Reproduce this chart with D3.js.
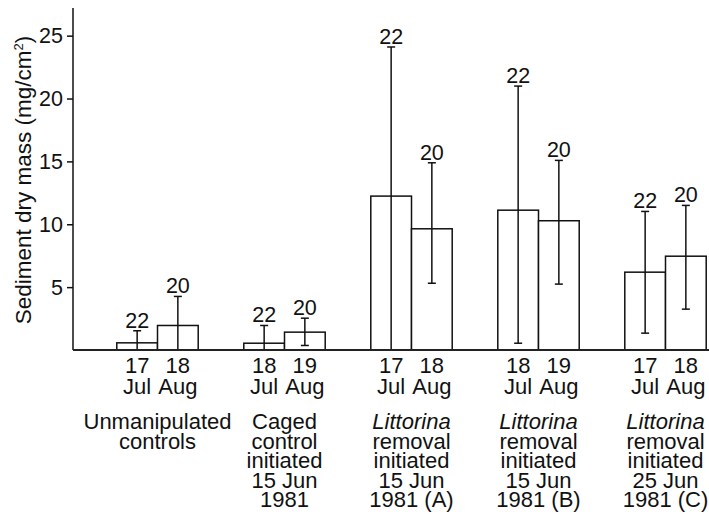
<!DOCTYPE html>
<html><head><meta charset="utf-8">
<script src="https://cdn.jsdelivr.net/npm/d3@7"></script>
<style>
html,body{margin:0;padding:0;background:#fff;}
text{font-family:"Liberation Sans",Arial,Helvetica,sans-serif;fill:#111;}
</style></head>
<body>
<svg id="chart" width="709" height="523"></svg>
<script>
// ---- data ----
const groups = ["G1","G2","G3","G4","G5"];
const groupLabels = [
  ["Unmanipulated","controls"],
  ["Caged","control","initiated","15 Jun","1981"],
  ["Littorina","removal","initiated","15 Jun","1981 (A)"],
  ["Littorina","removal","initiated","15 Jun","1981 (B)"],
  ["Littorina","removal","initiated","25 Jun","1981 (C)"]
];
const italicWords = ["Littorina"];
const sampleDays = [["17","18"],["18","19"],["17","18"],["18","19"],["17","18"]];
const sampleMonths = ["Jul","Aug"];
const sampleSizes = [22,20];
const means = [[0.57,1.95],[0.54,1.42],[12.24,9.64],[11.12,10.28],[6.19,7.46]];
const upper = [[1.53,4.26],[1.95,2.53],[24.1,14.89],[20.99,15.08],[11.02,11.5]];
const lower = [[null,null],[null,0.36],[null,5.31],[0.54,5.24],[1.34,3.25]];
const yTicks = [5,10,15,20,25];
const yTitle = "Sediment dry mass (mg/cm";

// ---- layout ----
const svg = d3.select("#chart");
const axisX = 73, baseY = 350, topY = 8, rightX = 709;
const y = d3.scaleLinear().domain([0, 27.2]).range([baseY, topY]);
const x = d3.scaleBand().domain(groups).range([94, 729]).paddingInner(0.359).paddingOuter(0.1795);
const xs = d3.scaleBand().domain([0,1]).range([0, x.bandwidth()]);

const records = [];
groups.forEach((g, gi) => {
  [0,1].forEach(si => records.push({
    g, gi, si, mean: means[gi][si], hi: upper[gi][si], lo: lower[gi][si],
    n: sampleSizes[si], day: sampleDays[gi][si], month: sampleMonths[si]
  }));
});

// bars
svg.append("g").selectAll("rect").data(records).join("rect")
  .attr("x", d => x(d.g) + xs(d.si))
  .attr("y", d => y(d.mean))
  .attr("width", xs.bandwidth())
  .attr("height", d => y(0) - y(d.mean))
  .attr("fill", "#fff").attr("stroke", "#111").attr("stroke-width", 1.5);

// error bars
const eb = svg.append("g").attr("stroke", "#111").attr("stroke-width", 1.5);
const cx = d => x(d.g) + xs(d.si) + xs.bandwidth()/2;
eb.selectAll("line.v").data(records).join("line").attr("class","v")
  .attr("x1", cx).attr("x2", cx)
  .attr("y1", d => y(d.hi)).attr("y2", d => y(d.lo == null ? 0 : d.lo));
eb.selectAll("line.h").data(records).join("line").attr("class","h")
  .attr("x1", d => cx(d) - 4).attr("x2", d => cx(d) + 4)
  .attr("y1", d => y(d.hi)).attr("y2", d => y(d.hi));
eb.selectAll("line.l").data(records.filter(d => d.lo != null)).join("line").attr("class","l")
  .attr("x1", d => cx(d) - 4).attr("x2", d => cx(d) + 4)
  .attr("y1", d => y(d.lo)).attr("y2", d => y(d.lo));

// n labels
svg.append("g").selectAll("text").data(records).join("text")
  .attr("x", cx).attr("y", d => y(d.hi) - 3)
  .attr("text-anchor", "middle").attr("font-size", 21.5)
  .text(d => d.n);

// y axis
const yAxis = svg.append("g").attr("transform", `translate(${axisX},0)`)
  .call(d3.axisLeft(y).tickValues(yTicks).tickSize(6).tickPadding(4));
yAxis.select(".domain").remove();
yAxis.selectAll(".tick line").attr("stroke", "#111").attr("stroke-width", 1.5);
yAxis.selectAll(".tick text").attr("font-size", 21.5).attr("fill", "#111")
  .style("font-family", "Liberation Sans, Arial, sans-serif");
svg.append("line").attr("x1", axisX).attr("x2", axisX).attr("y1", topY).attr("y2", baseY)
  .attr("stroke", "#111").attr("stroke-width", 1.5);
svg.append("line").attr("x1", axisX).attr("x2", rightX).attr("y1", baseY).attr("y2", baseY)
  .attr("stroke", "#222").attr("stroke-width", 1.8);

// y title
const t = svg.append("text").attr("transform", `translate(31,180) rotate(-90)`)
  .attr("text-anchor", "middle").attr("font-size", 22.5);
t.append("tspan").text(yTitle);
t.append("tspan").attr("dy", -8).attr("font-size", 13).text("2");
t.append("tspan").attr("dy", 8).text(")");

// day / month labels
const lab = svg.append("g").attr("font-size", 22).attr("text-anchor", "middle");
lab.selectAll("text.day").data(records).join("text").attr("class","day")
  .attr("x", cx).attr("y", 373).text(d => d.day);
lab.selectAll("text.mon").data(records).join("text").attr("class","mon")
  .attr("x", cx).attr("y", 394).text(d => d.month);

// group labels
const gl = svg.append("g").attr("font-size", 22).attr("text-anchor", "middle");
groups.forEach((g, gi) => {
  groupLabels[gi].forEach((line, li) => {
    gl.append("text")
      .attr("x", x(g) + x.bandwidth()/2)
      .attr("y", 429 + li * 19.6)
      .attr("font-style", italicWords.includes(line) ? "italic" : "normal")
      .text(line);
  });
});
</script>
</body></html>
